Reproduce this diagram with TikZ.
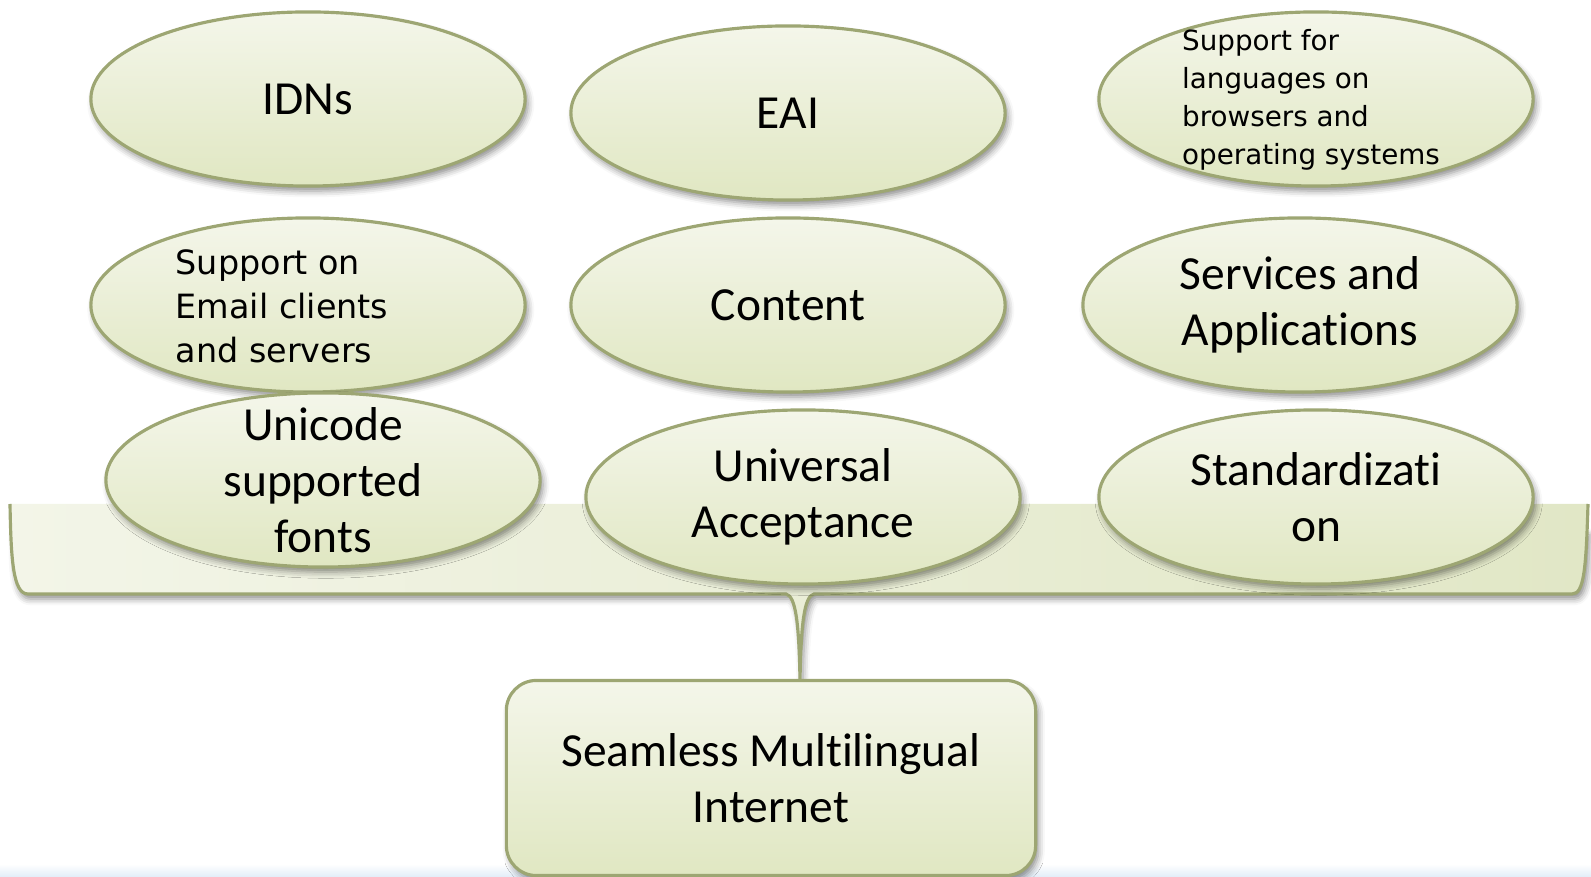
\documentclass[tikz,border=0pt]{standalone}
\usepackage{fontspec}
\setmainfont{Carlito}[Ligatures=NoCommon]
\newfontfamily\notefont{DejaVu Sans}
\usetikzlibrary{shapes.geometric,shadows.blur}
\definecolor{bubbletop}{HTML}{F4F6EA}
\definecolor{bubblebottom}{HTML}{E0E7C2}
\definecolor{bubbleedge}{HTML}{9DA673}
\definecolor{braceleft}{HTML}{F3F5E8}
\definecolor{braceright}{HTML}{E1E7C6}
\definecolor{stripblue}{HTML}{E2EDF8}

\begin{document}
\begin{tikzpicture}[
    x=0.01cm, y=-0.01cm,
    softshadow/.style={blur shadow={shadow xshift=0.8pt, shadow yshift=-1.4pt, shadow blur radius=1.8pt, shadow opacity=45}},
    bubble/.style={ellipse, draw=bubbleedge, line width=0.9pt, top color=bubbletop, bottom color=bubblebottom, minimum width=4.34cm, minimum height=1.74cm, softshadow},
    goalbox/.style={rectangle, rounded corners=0.3cm, draw=bubbleedge, line width=0.9pt, top color=bubbletop, bottom color=bubblebottom, minimum width=5.29cm, minimum height=1.95cm, softshadow},
    bigtext/.style={font=\fontsize{13.5}{16}\selectfont, align=center},
    notetext/.style={font=\notefont\fontsize{7.9}{10.8}\selectfont, align=left},
    mailtext/.style={font=\notefont\fontsize{9.5}{12.5}\selectfont, align=left}
]
\useasboundingbox (0,0) rectangle (1591,877);

% faint strip along the lower edge
\fill[top color=white, bottom color=stripblue] (0,864) rectangle (1591,877);

% bracket with its tail (shadow path starts lower so the top edge stays clean)
\coordinate (tip) at (800,680);
\path[softshadow, fill=white]
  (12,530) .. controls (12,570) and (13,594) .. (28,594) -- (786,594)
  .. controls (796,596) and (799,625) .. (tip)
  .. controls (801,625) and (804,596) .. (814,594) -- (1572,594)
  .. controls (1584,594) and (1586,570) .. (1587,530) -- cycle;
\path[left color=braceleft, right color=braceright]
  (10,504) .. controls (11,560) and (13,594) .. (28,594) -- (786,594)
  .. controls (796,596) and (799,625) .. (tip)
  .. controls (801,625) and (804,596) .. (814,594) -- (1572,594)
  .. controls (1584,594) and (1586,570) .. (1588,504) -- cycle;
\draw[bubbleedge, line width=0.9pt]
  (10,504) .. controls (11,560) and (13,594) .. (28,594) -- (786,594)
  .. controls (796,596) and (799,625) .. (tip)
  .. controls (801,625) and (804,596) .. (814,594) -- (1572,594)
  .. controls (1584,594) and (1586,570) .. (1588,504);

% result box
\node[goalbox] (goal) at (771,778) {};
\node[bigtext] (goal-t) at (goal) {Seamless Multilingual\\Internet};

% first row
\node[bubble] (idns) at (308,99) {};
\node[bubble] (eai) at (788,113) {};
\node[bubble] (browsers) at (1316,99) {};
\node[bigtext] (idns-t) at (idns) {IDNs};
\node[bigtext] (eai-t) at (eai) {EAI};
\node[notetext] (browsers-t) at (1311,100) {Support for\\languages on\\browsers and\\operating systems};

% second row
\node[bubble] (mail) at (308,305) {};
\node[bubble] (content) at (788,305) {};
\node[bubble] (apps) at (1300,305) {};
\node[mailtext] (mail-t) at (282,306) {Support on\\Email clients\\and servers};
\node[bigtext] (content-t) at (content) {Content};
\node[bigtext] (apps-t) at (apps) {Services and\\Applications};

% third row, over the bracket
\node[bubble] (fonts) at (323,480) {};
\node[bubble] (ua) at (803,497) {};
\node[bubble] (std) at (1316,497) {};
\node[bigtext] (fonts-t) at (fonts) {Unicode\\supported\\fonts};
\node[bigtext] (ua-t) at (ua) {Universal\\Acceptance};
\node[bigtext] (std-t) at (std) {Standardizati\\on};

\end{tikzpicture}
\end{document}
